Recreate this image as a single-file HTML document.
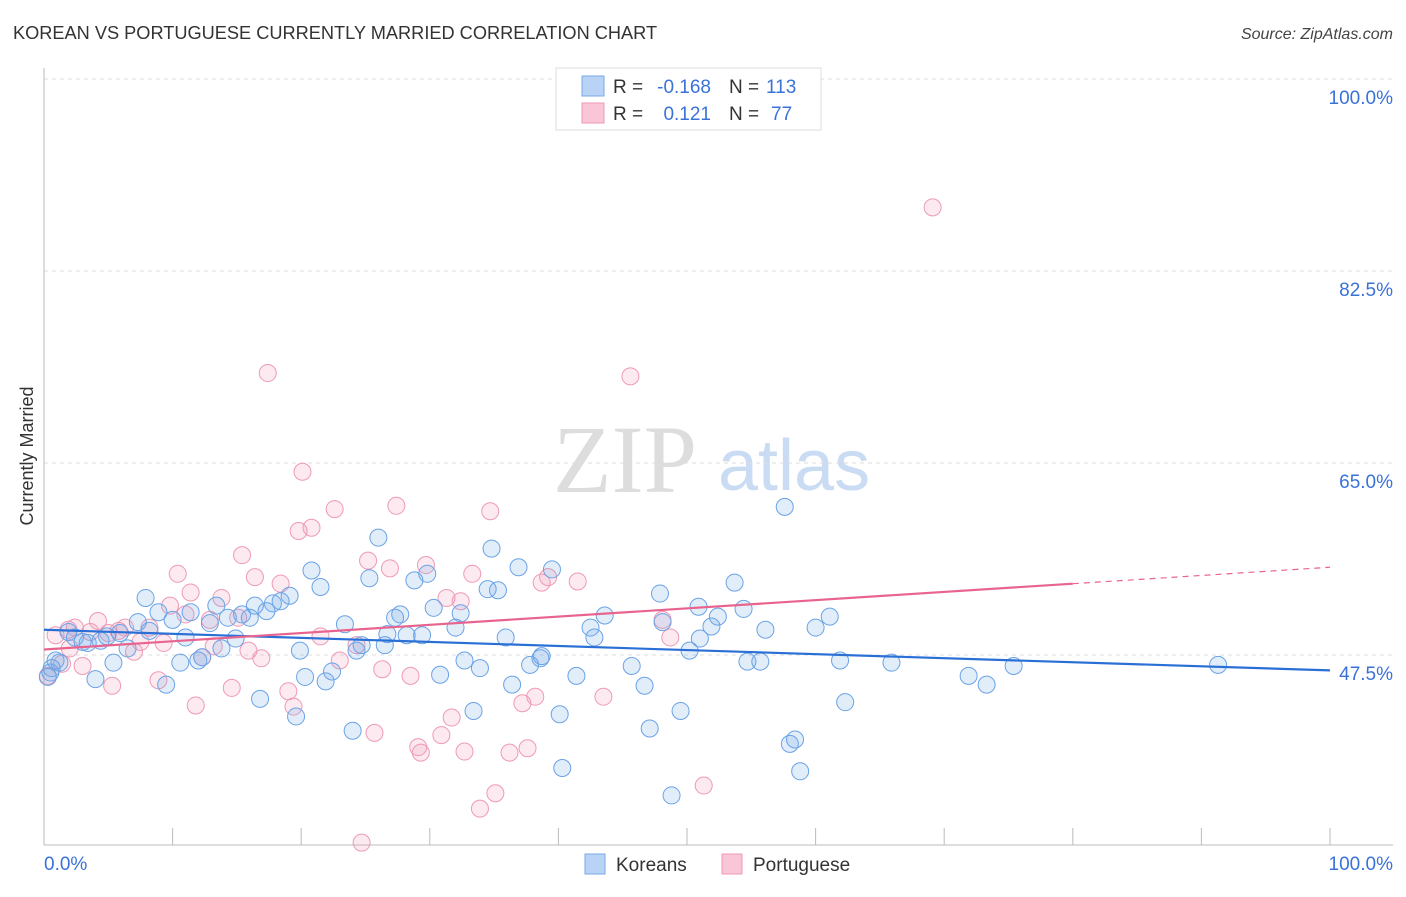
<!DOCTYPE html>
<html><head><meta charset="utf-8"><style>
body{margin:0;background:#fff;font-family:"Liberation Sans",sans-serif;}
svg text{font-family:"Liberation Sans",sans-serif;}
</style></head><body>
<svg id="chart" width="1406" height="892" viewBox="0 0 1406 892" xmlns="http://www.w3.org/2000/svg">
<text x="13" y="39" font-size="18.2" fill="#333">KOREAN VS PORTUGUESE CURRENTLY MARRIED CORRELATION CHART</text>
<text x="1393" y="39" font-size="16" fill="#444" text-anchor="end" font-style="italic">Source: ZipAtlas.com</text>
<g>
<text x="553" y="492" font-size="96" fill="#ddd" font-family="Liberation Serif" style="font-family:'Liberation Serif',serif">ZIP</text>
<text x="718" y="490" font-size="72" fill="#c9dcf3">atlas</text>
</g>
<g id="grid"></g>
<g id="axes"></g>
<g id="pts"></g>
<g id="trends"></g>
<text transform="translate(33,456) rotate(-90)" font-size="18" fill="#333" text-anchor="middle">Currently Married</text>
<text x="44" y="870" font-size="19" fill="#3a72d8">0.0%</text>
<text x="1393" y="870" font-size="19" fill="#3a72d8" text-anchor="end">100.0%</text>
<g>
<rect x="556" y="68" width="265" height="62" fill="#fff" stroke="#ddd"/>
<rect x="582" y="76" width="22" height="20" fill="#b8d3f5" stroke="#7aaae8"/>
<rect x="582" y="103" width="22" height="20" fill="#f8c6d6" stroke="#ef9ab5"/>
<text x="613" y="93" font-size="19" fill="#333">R =</text>
<text x="711" y="93" font-size="19" fill="#3a72d8" text-anchor="end">-0.168</text>
<text x="729" y="93" font-size="19" fill="#333">N =</text>
<text x="766" y="93" font-size="19" fill="#3a72d8">113</text>
<text x="613" y="120" font-size="19" fill="#333">R =</text>
<text x="711" y="120" font-size="19" fill="#3a72d8" text-anchor="end">0.121</text>
<text x="729" y="120" font-size="19" fill="#333">N =</text>
<text x="771" y="120" font-size="19" fill="#3a72d8">77</text>
</g>
<g>
<rect x="585" y="854" width="20" height="20" fill="#b8d3f5" stroke="#7aaae8"/>
<text x="616" y="871" font-size="19" fill="#333">Koreans</text>
<rect x="722" y="854" width="20" height="20" fill="#f8c6d6" stroke="#ef9ab5"/>
<text x="753" y="871" font-size="19" fill="#333">Portuguese</text>
</g>
</svg>
<script>
const yTicks=[100,82.5,65,47.5];
const yTickLabels=["100.0%","82.5%","65.0%","47.5%"];
const xTicks=[0,10,20,30,40,50,60,70,80,90,100];
const koreanX=[0.6,0.9,1.2,1.9,2.4,3.0,3.4,4.0,4.4,4.9,5.4,5.9,6.5,7.3,7.9,8.2,8.9,9.5,10.0,10.6,11.0,11.4,12.0,12.3,12.9,13.4,13.8,14.3,14.9,15.4,16.0,16.4,16.8,17.3,17.8,18.4,19.1,19.6,19.9,20.3,20.8,21.5,21.9,22.4,23.4,24.0,24.3,24.7,25.3,26.0,26.5,26.7,27.3,27.7,28.2,28.8,29.4,29.8,30.3,30.8,32.0,32.4,32.7,33.4,33.9,34.5,34.8,35.3,35.9,36.4,36.9,37.8,38.6,38.7,39.5,40.1,40.3,41.4,42.5,42.8,43.6,45.7,46.7,47.1,47.9,48.1,48.8,49.5,50.2,50.9,51.0,51.9,52.4,53.7,54.4,54.7,55.7,56.1,57.6,58.0,58.4,58.8,60.0,61.1,61.9,62.3,65.9,71.9,73.3,75.4,91.3,0.3,0.5];
const koreanY=[46.3,47.0,46.8,49.6,49.1,48.7,48.6,45.3,48.8,49.2,46.8,49.5,48.1,50.5,52.7,49.7,51.4,44.8,50.7,46.8,49.1,51.4,47.0,47.3,50.4,52.0,48.1,50.9,49.0,51.2,50.9,52.0,43.5,51.5,52.2,52.4,52.9,41.9,47.9,45.5,55.2,53.7,45.1,46.0,50.3,40.6,47.9,48.4,54.5,58.2,48.4,49.4,50.9,51.2,49.3,54.3,49.3,54.9,51.8,45.7,50.0,51.3,47.0,42.4,46.3,53.5,57.2,53.4,49.1,44.8,55.5,46.6,47.2,47.4,55.3,42.1,37.2,45.6,50.0,49.1,51.1,46.5,44.7,40.8,53.1,50.5,34.7,42.4,47.9,51.9,49.0,50.1,51.0,54.1,51.7,46.9,46.9,49.8,61.0,39.4,39.8,36.9,50.0,51.0,47.0,43.2,46.8,45.6,44.8,46.5,46.6,45.5,45.9];
const portX=[0.3,0.9,1.4,1.9,2.4,3.0,3.6,4.2,5.0,5.3,5.8,6.3,7.0,7.5,8.2,8.9,9.3,9.8,10.4,11.0,11.4,11.8,12.3,12.9,13.2,13.8,14.6,15.1,15.4,15.9,16.4,16.9,17.4,18.4,19.0,19.4,19.8,20.1,20.8,21.5,22.6,23.0,24.3,25.2,25.7,26.3,26.9,27.4,28.5,29.1,29.3,29.7,30.9,31.3,31.7,32.4,32.7,33.3,33.9,34.7,35.1,36.2,37.2,37.6,38.2,38.7,39.2,41.5,43.5,45.6,48.1,48.7,51.3,69.1,24.7,2.0];
const portY=[45.6,49.3,46.7,49.8,50.0,46.5,49.6,50.6,49.5,44.7,49.7,50.0,47.8,48.7,50.0,45.2,48.6,52.0,54.9,51.2,53.2,42.9,47.3,50.7,48.3,52.7,44.5,50.9,56.6,47.9,54.6,47.2,73.2,54.0,44.2,42.8,58.8,64.2,59.1,49.2,60.8,47.0,48.4,56.1,40.4,46.2,55.4,61.1,45.6,39.1,38.6,55.7,40.2,52.7,41.8,52.4,38.7,54.9,33.5,60.6,34.9,38.6,43.1,39.0,43.7,54.1,54.6,54.2,43.7,72.9,50.7,49.1,35.6,88.3,30.4,48.1];
const koreanTrend=[49.8,46.1];
const portTrend=[48.0,55.5];
const portSolidEnd=80;

const NS="http://www.w3.org/2000/svg";
const X0=44,X1=1330,YTOP=79,PXPER=192/17.5;
function sx(v){return X0+(X1-X0)*v/100;}
function sy(v){return YTOP+(100-v)*PXPER;}
function mk(tag,attrs,parent){const e=document.createElementNS(NS,tag);for(const k in attrs)e.setAttribute(k,attrs[k]);parent.appendChild(e);return e;}
const grid=document.getElementById('grid'),axes=document.getElementById('axes'),pts=document.getElementById('pts'),tr=document.getElementById('trends');
yTicks.forEach((t,i)=>{
 const l=mk('line',{x1:X0,x2:1393,y1:sy(t),y2:sy(t),stroke:'#ddd','stroke-dasharray':'4 4'},grid);
 
 
 const tx=mk('text',{x:1393,y:sy(t)+25,'font-size':19,fill:'#3a72d8','text-anchor':'end'},grid);
 tx.textContent=yTickLabels[i];
 
 
});
const ya=mk('line',{x1:X0,x2:X0,y1:68,y2:845,stroke:'#bbb'},axes);


const xa=mk('line',{x1:X0,x2:1393,y1:845,y2:845,stroke:'#bbb'},axes);


xTicks.forEach(t=>{
 const l=mk('line',{x1:sx(t),x2:sx(t),y1:828,y2:845,stroke:'#bbb'},axes);
 
 
});
function drawPts(xs,ys,fill,stroke,name){
 xs.forEach((x,i)=>{
  const c=mk('circle',{cx:sx(x),cy:sy(ys[i]),r:8.5,fill:fill,stroke:stroke,'stroke-width':1},pts);
  
  
 });
}
drawPts(portX,portY,'rgba(240,150,180,0.2)','#ef9ab5','portuguese-point');
drawPts(koreanX,koreanY,'rgba(110,165,230,0.2)','#6aa3e6','korean-point');
const kt=mk('line',{x1:sx(0),y1:sy(koreanTrend[0]),x2:sx(100),y2:sy(koreanTrend[1]),stroke:'#2a6fd6','stroke-width':2.2},tr);


const pAt=v=>portTrend[0]+(portTrend[1]-portTrend[0])*v/100;
const pt=mk('line',{x1:sx(0),y1:sy(pAt(0)),x2:sx(portSolidEnd),y2:sy(pAt(portSolidEnd)),stroke:'#e8648f','stroke-width':2.2},tr);


const pd=mk('line',{x1:sx(portSolidEnd),y1:sy(pAt(portSolidEnd)),x2:sx(100),y2:sy(pAt(100)),stroke:'#e8648f','stroke-width':1.2,'stroke-dasharray':'6 5'},tr);


</script>
</body></html>
